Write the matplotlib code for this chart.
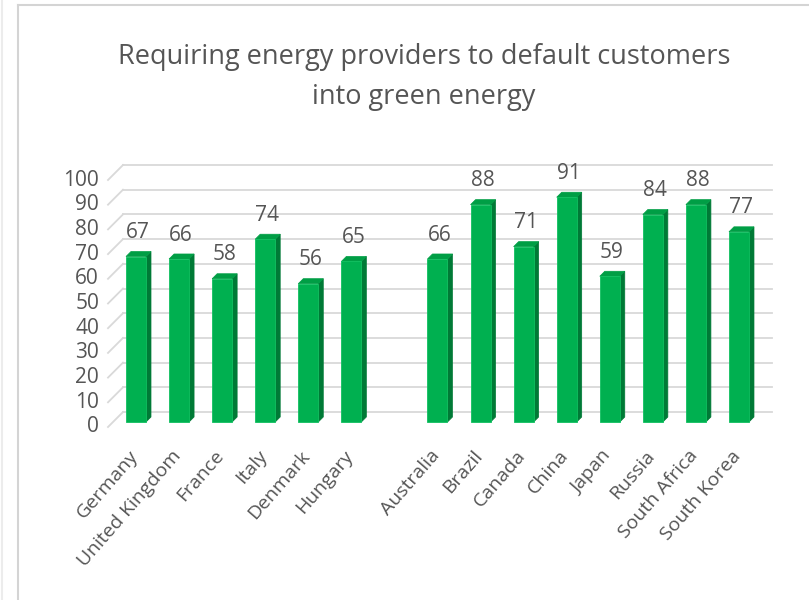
import numpy as np
import matplotlib.pyplot as plt
from matplotlib.patches import Polygon
from matplotlib.lines import Line2D

plt.rcParams['font.family'] = ['Open Sans', 'DejaVu Sans']

title = "Requiring energy providers to default customers\ninto green energy"
countries = ["Germany", "United Kingdom", "France", "Italy", "Denmark", "Hungary",
             "Australia", "Brazil", "Canada", "China", "Japan", "Russia",
             "South Africa", "South Korea"]
values = [67, 66, 58, 74, 56, 65, 66, 88, 71, 91, 59, 84, 88, 77]
yticks = [0, 10, 20, 30, 40, 50, 60, 70, 80, 90, 100]

# two groups with an empty slot between them
pos = np.r_[np.arange(6), np.arange(6, 14) + 1]

FRONT = "#00B050"
SIDE = "#007A36"
TOP = "#009E45"
GRID = "#d9d9d9"
TXT = "#555555"

W, H = 809, 600
fig = plt.figure(figsize=(W / 100, H / 100), dpi=100)

# pixel geometry of the bar plane
x0px, sx = 136.0, 43.07     # slot 0 centre, px per slot
y0px, sy = 422.0, 2.47      # value 0 (from top), px per unit
xlim = (-0.9, 14.9)
ylim = (-15, 112)
l = x0px + sx * xlim[0]
r = x0px + sx * xlim[1]
b = y0px - sy * ylim[0]
t = y0px - sy * ylim[1]
ax = fig.add_axes([l / W, 1 - b / H, (r - l) / W, (b - t) / H])
ax.set_xlim(*xlim)
ax.set_ylim(*ylim)
ax.axis("off")

def px(dx, dy):
    return dx / sx, dy / sy

bw = 20 / sx
bdx, bdy = px(5, 5)
wdx, wdy = px(10, 10)
fdx, fdy = px(5, 5)
L, R = -0.534, 14.534

# back wall gridlines + side wall diagonals
for v in yticks:
    ax.add_line(Line2D([L + wdx, R + wdx], [v + wdy, v + wdy], color=GRID, lw=1.3, zorder=1))
    ax.add_line(Line2D([L - fdx, L + wdx], [v - fdy, v + wdy], color=GRID, lw=1.3, zorder=1))
    ax.text(L - fdx - 9 / sx, v - fdy, str(v), ha="right", va="center",
            fontsize=15, color=TXT)

# 3D-looking bars
for s, v, name in zip(pos, values, countries):
    xl, xr = s - bw / 2, s + bw / 2
    ax.add_patch(Polygon([(xr, 0), (xr + bdx, bdy), (xr + bdx, v + bdy), (xr, v)],
                         closed=True, fc=SIDE, ec=SIDE, lw=0.5, zorder=3))
    ax.add_patch(Polygon([(xl, v), (xr, v), (xr + bdx, v + bdy), (xl + bdx, v + bdy)],
                         closed=True, fc=TOP, ec=TOP, lw=0.5, zorder=3))
    ax.bar(s, v, width=bw, color=FRONT, edgecolor="#10c060", lw=0.6, zorder=4)
    ax.text(s + 0.05, v + 9.7, str(v), ha="center", va="center",
            fontsize=15, color=TXT)
    ax.text(s - 0.03, -12.5, name, rotation=49, rotation_mode="anchor",
            ha="right", va="center", fontsize=14, color=TXT)

fig.text(424 / W, 1 - 77 / H, title, ha="center", va="center", fontsize=19.5,
         color=TXT, linespacing=1.55)

# screenshot frame lines
fig.add_artist(Line2D([2 / W, 2 / W], [0, 1], color="#ececec", lw=1.5))
fig.add_artist(Line2D([18 / W, 18 / W], [0, 1 - 5 / H], color="#d4d4d4", lw=1.5))
fig.add_artist(Line2D([18 / W, 1], [1 - 5 / H, 1 - 5 / H], color="#d4d4d4", lw=1.5))

fig.savefig("out.png", dpi=100, facecolor="white")
